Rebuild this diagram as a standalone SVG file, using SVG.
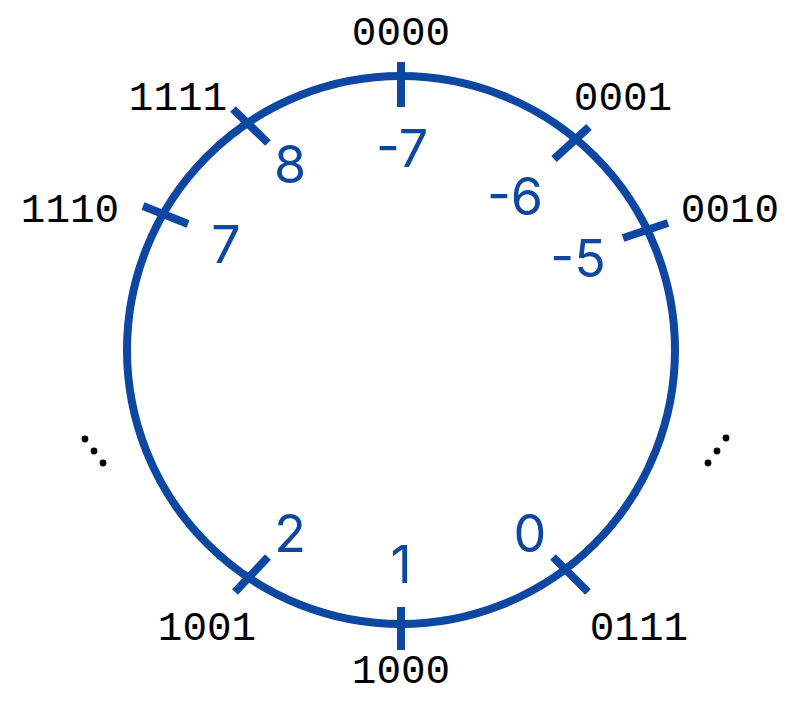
<svg xmlns="http://www.w3.org/2000/svg" width="787" height="703" viewBox="0 0 787 703">
<style>
.ring{fill:none;stroke:#0d47a1;stroke-width:8}
.tick{stroke:#0d47a1;stroke-width:8;stroke-linecap:butt}
.bin{font-family:"Liberation Mono","DejaVu Sans Mono",monospace;font-size:41px;fill:#000;text-anchor:middle}
.num{font-family:Inter,Roboto,"Liberation Sans",sans-serif;font-size:52px;fill:#0d47a1;text-anchor:middle}
.dot{fill:#000}
</style>
<rect width="787" height="703" fill="#fff"/>
<g id="ring"><circle class="ring" cx="401" cy="350" r="274"/></g>
<g id="connectors">
<line class="tick" x1="401" y1="62" x2="401" y2="107"/>
<line class="tick" x1="589" y1="127" x2="554" y2="159"/>
<line class="tick" x1="668" y1="223" x2="623" y2="238"/>
<line class="tick" x1="233" y1="109" x2="268" y2="143"/>
<line class="tick" x1="143" y1="206" x2="188" y2="224"/>
<line class="tick" x1="268" y1="557" x2="235" y2="592"/>
<line class="tick" x1="401" y1="607" x2="401" y2="650"/>
<line class="tick" x1="553" y1="557" x2="588" y2="592"/>
</g>
<g id="n0000"><text class="bin" x="401" y="45">0000</text><text class="num" x="402" y="167">-7</text></g>
<g id="n0001"><text class="bin" x="623" y="110">0001</text><text class="num" x="515" y="215">-6</text></g>
<g id="n0010"><text class="bin" x="730" y="222">0010</text><text class="num" x="578" y="277">-5</text></g>
<g id="n1111"><text class="bin" x="178" y="110">1111</text><text class="num" x="290" y="183">8</text></g>
<g id="n1110"><text class="bin" x="70" y="222">1110</text><text class="num" x="226" y="263">7</text></g>
<g id="n1001"><text class="bin" x="207" y="640">1001</text><text class="num" x="290" y="552">2</text></g>
<g id="n1000"><text class="bin" x="401" y="683">1000</text><text class="num" x="401" y="583">1</text></g>
<g id="n0111"><text class="bin" x="639" y="640">0111</text><text class="num" x="530" y="552">0</text></g>
<g id="ellipsis-left"><circle class="dot" cx="85" cy="439" r="3.4"/><circle class="dot" cx="94" cy="451" r="3.4"/><circle class="dot" cx="103" cy="463" r="3.4"/></g>
<g id="ellipsis-right"><circle class="dot" cx="708" cy="463" r="3.4"/><circle class="dot" cx="717" cy="451" r="3.4"/><circle class="dot" cx="726" cy="438" r="3.4"/></g>
</svg>
